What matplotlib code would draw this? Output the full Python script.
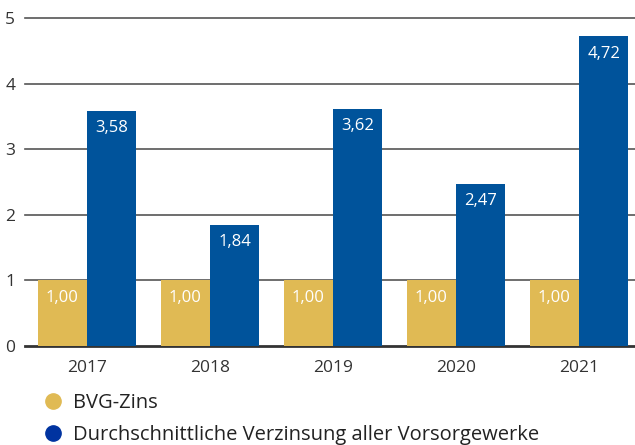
import numpy as np
import matplotlib.pyplot as plt
from matplotlib.lines import Line2D

plt.rcParams['font.family'] = ['Open Sans', 'DejaVu Sans']

years = ['2017', '2018', '2019', '2020', '2021']
bvg_zins = [1.00, 1.00, 1.00, 1.00, 1.00]
verzinsung = [3.58, 1.84, 3.62, 2.47, 4.72]
yticks = [0, 1, 2, 3, 4, 5]

gold = '#E0BA54'
blue = '#00539B'

fig = plt.figure(figsize=(6.35, 4.45), dpi=100)
ax = fig.add_axes([25 / 635, 99 / 445, 610 / 635, 328 / 445])

x = np.arange(len(years))
w = 0.4
b1 = ax.bar(x - w / 2, bvg_zins, w, color=gold, zorder=3)
b2 = ax.bar(x + w / 2, verzinsung, w, color=blue, zorder=3)

def fmt(v):
    return f'{v:.2f}'.replace('.', ',')

for rect, v in zip(list(b1) + list(b2), bvg_zins + verzinsung):
    ax.text(rect.get_x() + rect.get_width() / 2, v - 0.14, fmt(v),
            ha='center', va='top', color='white', fontsize=12, zorder=4)

ax.set_xlim(-0.504, 4.455)
ax.set_ylim(0, 5)
ax.set_yticks(yticks)
ax.set_yticklabels([str(t) for t in yticks], fontsize=12.5, color='#333333')
ax.set_xticks(x)
ax.set_xticklabels(years, fontsize=12.5, color='#333333')
ax.tick_params(length=0)
ax.tick_params(axis='x', pad=10)
ax.tick_params(axis='y', pad=7)
for t in yticks:
    ax.axhline(t, color='#555555' if t > 0 else '#333333',
               lw=1.2 if t > 0 else 2, zorder=2, clip_on=False)
for s in ax.spines.values():
    s.set_visible(False)

handles = [
    Line2D([], [], marker='o', ls='', color=gold, markersize=11),
    Line2D([], [], marker='o', ls='', color='#0033A0', markersize=11),
]
fig.legend(handles, ['BVG-Zins', 'Durchschnittliche Verzinsung aller Vorsorgewerke'],
           loc='upper left', bbox_to_anchor=(37 / 635, 1 - 393 / 445),
           frameon=False, fontsize=14.5, handlelength=1.6, handletextpad=0.2,
           labelspacing=0.62, borderaxespad=0, borderpad=0, labelcolor='#222222')

fig.savefig('out.png', dpi=100)
